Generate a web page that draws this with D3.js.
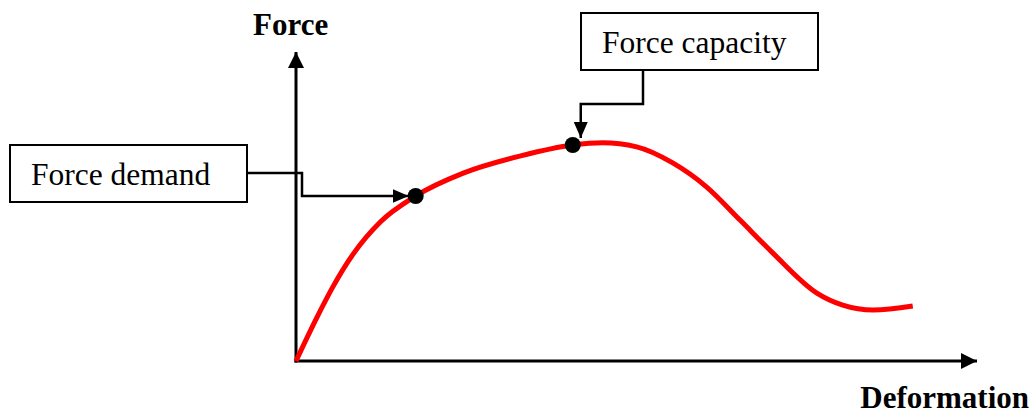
<!DOCTYPE html>
<html>
<head>
<meta charset="utf-8">
<script src="https://cdn.jsdelivr.net/npm/d3@7"></script>
<style>
  body { margin: 0; background: #fff; }
  svg { display: block; }
  text { font-family: "Liberation Serif", "Times New Roman", serif; fill: #000; }
</style>
</head>
<body>
<svg id="chart" width="1033" height="417"></svg>
<script>
// curve values (arbitrary units)
const deformation = [0, 0.31, 0.54, 0.84, 1.24, 1.76, 2.46, 3.29, 4.07, 4.51, 5.01, 5.54, 6.04, 6.53, 7.01, 7.66, 8.04, 8.49, 9.07];
const force       = [0, 1.42, 2.39, 3.46, 4.50, 5.34, 6.08, 6.63, 6.99, 7.06, 6.93, 6.41, 5.63, 4.56, 3.50, 2.20, 1.81, 1.65, 1.78];

// marked points
const pointNames = ["Force demand", "Force capacity"];
const pointX = [1.76, 4.07];
const pointY = [5.34, 6.99];

const axisTitles = ["Force", "Deformation"];

let svg = d3.select("#chart");

let x = d3.scaleLinear().domain([0, 10]).range([296, 976]);
let y = d3.scaleLinear().domain([0, 10]).range([361, 52]);

// arrow heads
let defs = svg.append("defs");
defs.append("marker")
  .attr("id", "axisHead")
  .attr("viewBox", "0 0 16 16")
  .attr("refX", 16).attr("refY", 8)
  .attr("markerWidth", 16).attr("markerHeight", 16)
  .attr("markerUnits", "userSpaceOnUse")
  .attr("orient", "auto")
  .append("path").attr("d", "M0,0 L16,8 L0,16 Z").attr("fill", "#000");
defs.append("marker")
  .attr("id", "callHead")
  .attr("viewBox", "0 0 16 14")
  .attr("refX", 16).attr("refY", 7)
  .attr("markerWidth", 16).attr("markerHeight", 14)
  .attr("markerUnits", "userSpaceOnUse")
  .attr("orient", "auto")
  .append("path").attr("d", "M0,0 L16,7 L0,14 Z").attr("fill", "#000");

// axes
svg.append("line")
  .attr("x1", x(0)).attr("y1", y(0) + 1.5)
  .attr("x2", x(0)).attr("y2", y(10))
  .attr("stroke", "#000").attr("stroke-width", 3)
  .attr("marker-end", "url(#axisHead)");
svg.append("line")
  .attr("x1", x(0) - 1.5).attr("y1", y(0))
  .attr("x2", x(10) + 1).attr("y2", y(0))
  .attr("stroke", "#000").attr("stroke-width", 3)
  .attr("marker-end", "url(#axisHead)");

svg.append("text")
  .attr("x", x(0) - 43).attr("y", 35)
  .attr("font-size", 31).attr("font-weight", "bold")
  .text(axisTitles[0]);
svg.append("text")
  .attr("x", 1029).attr("y", 408)
  .attr("text-anchor", "end")
  .attr("font-size", 31).attr("font-weight", "bold")
  .text(axisTitles[1]);

// curve
let line = d3.line()
  .x((d, i) => x(deformation[i]))
  .y((d, i) => y(force[i]))
  .curve(d3.curveMonotoneX);

svg.append("path")
  .datum(force)
  .attr("d", line)
  .attr("fill", "none")
  .attr("stroke", "#ff0000")
  .attr("stroke-width", 5)
  .attr("stroke-linecap", "butt");

// callout boxes
let boxes = [
  { x: 10, y: 145, w: 237, h: 57 },
  { x: 581, y: 13, w: 237, h: 57 }
];
boxes.forEach((b, i) => {
  svg.append("rect")
    .attr("x", b.x).attr("y", b.y)
    .attr("width", b.w).attr("height", b.h)
    .attr("fill", "#fff").attr("stroke", "#000").attr("stroke-width", 2);
  svg.append("text")
    .attr("x", b.x + 21).attr("y", b.y + 40)
    .attr("font-size", 31.5)
    .text(pointNames[i]);
});

// connector: demand
let dx = x(pointX[0]), dy = y(pointY[0]);
svg.append("path")
  .attr("d", d3.line()([[247, 173], [302, 173], [302, dy], [dx - 7, dy]]))
  .attr("fill", "none").attr("stroke", "#000").attr("stroke-width", 2.5)
  .attr("marker-end", "url(#callHead)");

// connector: capacity
let cx = x(pointX[1]), cy = y(pointY[1]);
svg.append("path")
  .attr("d", d3.line()([[643, 70], [643, 104], [cx + 8, 104], [cx + 8, cy - 7]]))
  .attr("fill", "none").attr("stroke", "#000").attr("stroke-width", 2.5)
  .attr("marker-end", "url(#callHead)");

// points
svg.selectAll("circle.pt")
  .data(pointX)
  .join("circle")
  .attr("class", "pt")
  .attr("cx", (d, i) => x(pointX[i]))
  .attr("cy", (d, i) => y(pointY[i]))
  .attr("r", 8)
  .attr("fill", "#000");
</script>
</body>
</html>
